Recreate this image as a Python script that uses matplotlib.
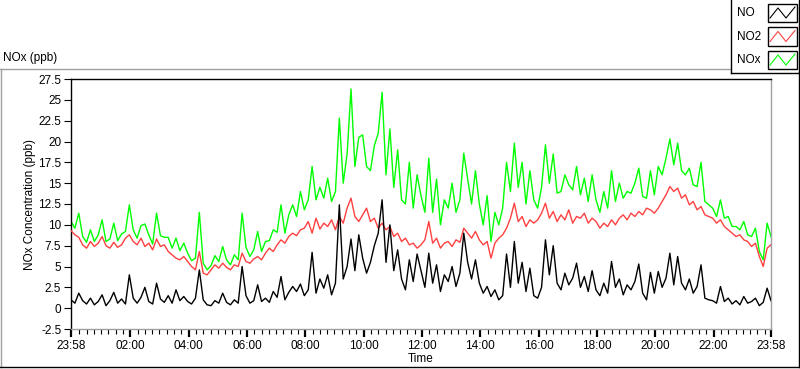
import numpy as np
import matplotlib
matplotlib.use("Agg")
import matplotlib.pyplot as plt
from matplotlib.lines import Line2D
from matplotlib.patches import Rectangle

# minutes after 23:58, one reading every 8 minutes
minutes = np.arange(0, 1441, 8)

no = [1.0, 0.6, 1.8, 0.9, 0.5, 1.2, 0.4, 0.8, 1.6, 0.3, 0.9, 1.9, 0.6, 1.1, 0.5,
      4.0, 1.2, 0.6, 1.3, 2.5, 0.8, 0.5, 3.0, 1.1, 0.7, 1.5, 0.6, 2.2, 0.9, 1.4,
      0.8, 0.5, 1.2, 4.6, 1.0, 0.4, 0.3, 0.9, 0.6, 1.8, 0.7, 0.4, 1.0, 0.6, 5.0,
      1.5, 0.6, 0.9, 2.8, 0.8, 1.2, 0.7, 2.0, 1.3, 3.8, 1.0, 1.9, 2.6, 2.0, 2.9,
      1.5, 2.2, 6.7, 1.8, 3.5, 2.4, 4.0, 1.6, 3.0, 12.4, 3.5, 5.0, 8.3, 4.5, 8.8,
      6.0, 4.2, 5.5, 7.5, 9.0, 13.0, 5.5, 10.0, 4.5, 7.0, 3.5, 2.2, 5.8, 3.2, 6.5,
      4.5, 2.5, 6.6, 3.0, 5.2, 2.0, 4.0, 3.2, 5.0, 2.6, 4.2, 9.0, 5.5, 3.5, 5.8,
      3.0, 1.8, 2.6, 1.4, 2.2, 1.0, 1.5, 6.5, 2.5, 8.0, 3.0, 5.5, 2.0, 4.8, 1.5,
      1.2, 2.5, 8.2, 4.0, 7.5, 3.0, 2.2, 4.2, 2.8, 3.6, 5.4, 2.5, 3.8, 2.0, 4.5,
      2.2, 1.5, 3.0, 1.8, 5.6, 2.5, 3.5, 1.6, 2.8, 2.2, 3.2, 5.3, 1.8, 1.0, 4.3,
      1.8, 4.4, 2.5, 3.6, 6.6, 2.8, 6.2, 3.0, 2.2, 3.5, 1.8, 2.6, 5.2, 1.2, 1.0,
      0.9, 0.6, 2.6, 0.8, 1.2, 0.5, 0.9, 0.4, 1.4, 0.6, 0.8, 1.2, 0.3, 0.7, 2.4,
      0.9]

no2 = [9.3, 8.8, 8.5, 7.6, 7.2, 8.0, 7.4, 7.8, 8.6, 7.5, 7.2, 7.9, 7.3, 7.6, 8.4,
       8.8, 8.0, 7.6, 8.4, 7.4, 7.8, 7.0, 8.3, 7.4, 7.6, 6.8, 6.4, 6.0, 5.8, 6.2,
       5.6, 5.0, 4.6, 6.8, 4.2, 4.0, 4.6, 5.2, 4.8, 5.4, 4.9, 4.6, 5.2, 5.0, 6.6,
       5.6, 5.4, 5.9, 6.2, 5.8, 6.6, 7.2, 6.8, 7.6, 8.2, 7.8, 8.6, 9.0, 8.7, 9.4,
       9.6, 10.4, 9.0, 10.8, 9.5, 10.2, 9.8, 10.6, 9.4, 11.0, 10.2, 12.0, 13.2, 11.0, 10.4,
       11.2, 12.0, 10.4, 10.8, 9.6, 10.2, 9.4, 9.8, 8.6, 9.0, 8.0, 8.4, 7.6, 7.8, 7.2,
       7.6, 8.2, 10.4, 7.8, 8.4, 7.2, 7.8, 8.0, 7.4, 8.2, 7.9, 9.6, 9.0, 8.4, 9.2,
       8.2, 7.6, 8.0, 6.0, 7.8, 8.4, 8.8, 9.6, 10.8, 12.6, 10.4, 11.0, 9.8, 10.6, 10.2,
       10.6, 11.4, 12.6, 10.8, 11.6, 10.4, 11.2, 10.6, 11.8, 10.2, 11.0, 10.8, 11.4, 10.2, 10.8,
       10.4, 9.6, 10.2, 9.8, 10.6, 10.0, 10.8, 11.2, 10.6, 11.4, 11.0, 11.6, 11.2, 12.0, 11.8,
       11.4, 12.0, 12.8, 13.6, 14.6, 14.0, 14.4, 13.2, 13.6, 12.4, 12.8, 11.8, 12.2, 11.2, 11.0,
       10.8, 10.2, 10.6, 9.8, 9.4, 9.0, 8.6, 8.8, 8.2, 8.0, 7.4, 7.8, 6.2, 5.0, 7.2,
       7.6]

nox = [10.4, 9.6, 11.4, 8.6, 7.9, 9.4, 8.0, 8.8, 10.6, 8.0, 8.3, 10.2, 8.1, 8.9, 9.2,
       12.4, 9.4, 8.4, 9.9, 10.1, 8.8, 7.7, 11.4, 8.7, 8.5, 8.5, 7.2, 8.4, 6.9, 7.8,
       6.6, 5.7, 6.0, 11.5, 5.4, 4.6, 5.1, 6.3, 5.6, 7.4, 5.8, 5.2, 6.4, 5.8, 11.4,
       7.3, 6.2, 7.0, 9.2, 6.8, 8.0, 8.1, 9.4, 9.1, 12.4, 9.0, 11.2, 12.4, 11.0, 14.0,
       11.8, 13.0, 17.0, 13.0, 14.5, 13.2, 15.6, 12.8, 14.0, 22.8, 15.0, 18.5, 26.3, 17.0, 20.5,
       20.8, 17.0, 16.5, 19.5, 21.0, 25.9, 16.0, 21.5, 14.5, 19.0, 13.0, 12.5, 17.5, 12.0, 16.0,
       13.5, 11.5, 18.0, 11.5, 15.5, 10.0, 13.0, 12.0, 15.0, 11.5, 13.0, 18.6, 15.5, 12.5, 16.5,
       12.5, 10.0, 13.5, 8.0, 11.5, 10.0, 12.0, 17.5, 14.0, 19.8, 14.5, 17.5, 12.5, 16.5, 13.0,
       12.0, 14.5, 19.6, 15.0, 18.5, 13.8, 14.0, 16.0, 14.8, 14.2, 17.0, 13.6, 15.6, 12.8, 16.0,
       13.0, 11.5, 14.0, 12.0, 16.5, 12.8, 15.0, 13.2, 14.0, 13.8, 15.0, 16.8, 13.4, 13.2, 16.5,
       13.6, 17.0, 16.0, 18.0, 20.3, 17.2, 19.8, 16.5, 16.0, 16.8, 14.8, 14.6, 17.5, 12.8, 12.4,
       12.0, 11.0, 13.0, 10.8, 11.0, 9.8, 9.8, 9.4, 10.4, 8.8, 8.6, 9.6, 6.8, 5.8, 10.2,
       8.6]

tick_minutes = [0, 122, 242, 362, 482, 602, 722, 842, 962, 1082, 1202, 1322, 1440]
tick_labels = ["23:58", "02:00", "04:00", "06:00", "08:00", "10:00", "12:00",
               "14:00", "16:00", "18:00", "20:00", "22:00", "23:58"]
y_ticks = [-2.5, 0, 2.5, 5, 7.5, 10, 12.5, 15, 17.5, 20, 22.5, 25, 27.5]

series_names = ["NO", "NO2", "NOx"]
series_colors = ["#000000", "#ff4040", "#00ff00"]

W, H = 800, 369
FS = 8.5
plt.rcParams['font.family'] = ['Liberation Sans', 'DejaVu Sans']
fig = plt.figure(figsize=(W / 100, H / 100), dpi=100)


def fpos(x, y):
    # pixel position (top-left origin) -> figure fraction
    return x / W, 1 - y / H


ax = fig.add_axes([71 / W, (H - 329) / H, 700 / W, 250 / H])
ax.plot(minutes, nox, color=series_colors[2], lw=1.0, zorder=2)
ax.plot(minutes, no2, color=series_colors[1], lw=1.0, zorder=3)
ax.plot(minutes, no, color=series_colors[0], lw=1.0, zorder=4)

ax.set_xlim(0, 1440)
ax.set_ylim(-2.5, 27.5)
ax.set_yticks(y_ticks)
ax.set_yticklabels([("%g" % v) for v in y_ticks])
ax.set_xticks(tick_minutes)
ax.set_xticklabels(tick_labels)
minor = [m for m in range(17, 1440, 15) if m not in tick_minutes]
ax.set_xticks(minor, minor=True)
ax.tick_params(axis='y', direction='out', length=5, width=0.8, pad=2, labelsize=FS)
ax.tick_params(axis='x', which='major', direction='out', length=6, width=1.6, pad=2, labelsize=FS)
ax.tick_params(axis='x', which='minor', direction='out', length=3.5, width=0.8)
for s in ['left', 'top']:
    ax.spines[s].set_color('black')
    ax.spines[s].set_linewidth(1.0)
for s in ['right', 'bottom']:
    ax.spines[s].set_color('#a0a0a0')
    ax.spines[s].set_linewidth(1.0)

fig.text(*fpos(30, 205), "NOx Concentration (ppb)", rotation=90, ha='center', va='center', fontsize=FS)
fig.text(*fpos(421, 359), "Time", ha='center', va='center', fontsize=FS)
fig.text(*fpos(3, 58), "NOx (ppb)", ha='left', va='center', fontsize=FS)

# panel frame
def fline(x0, y0, x1, y1, color, lw=1.0):
    a = fpos(x0, y0)
    b = fpos(x1, y1)
    fig.add_artist(Line2D([a[0], b[0]], [a[1], b[1]], color=color, lw=lw,
                          transform=fig.transFigure))

fline(0, 68.5, 731, 68.5, '#a0a0a0')
fline(1, 68.5, 1, 366.5, '#a0a0a0')
fline(0, 366.5, 800, 366.5, '#000000')
fline(798.5, 72, 798.5, 367, '#000000')

# legend box
fline(730.5, 0, 730.5, 72.5, '#000000')
fline(730.5, 72.5, 799, 72.5, '#000000')
fline(798.5, 0, 798.5, 72.5, '#000000')

for i, (name, col) in enumerate(zip(series_names, series_colors)):
    top = 4 + i * 23.5
    fig.text(*fpos(737, top + 9), name, ha='left', va='center', fontsize=FS)
    x0, y0 = fpos(768, top + 18)
    fig.add_artist(Rectangle((x0, y0), 29 / W, 18 / H, transform=fig.transFigure,
                             facecolor='white', edgecolor='black', lw=1.0))
    zx = [770, 778, 786, 795]
    zy = [top + 14, top + 4, top + 14, top + 3]
    pts = [fpos(a, b) for a, b in zip(zx, zy)]
    fig.add_artist(Line2D([p[0] for p in pts], [p[1] for p in pts], color=col, lw=0.8,
                          transform=fig.transFigure))

fig.savefig("out.png", dpi=100)
